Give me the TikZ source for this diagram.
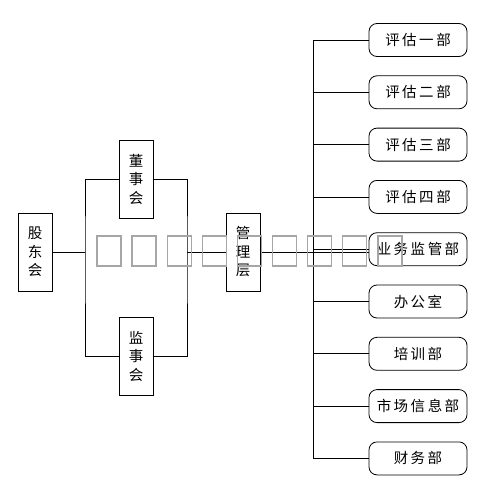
\documentclass[tikz,border=0pt]{standalone}
\usepackage{fontspec}
\setmainfont{Noto Sans CJK SC}
\usetikzlibrary{positioning}
\newcommand{\gap}{\hspace{2.5pt}}

\begin{document}
\begin{tikzpicture}[x=1pt, y=-1pt, line width=0.8pt,
      every node/.append style={font=\fontsize{14.5}{18.5}\selectfont},
      vbox/.style={draw, fill=white, minimum width=34pt, minimum height=78pt,
                   inner sep=0pt, align=center},
      dept/.style={draw, fill=white, rounded corners=8pt, minimum width=98pt,
                   minimum height=33pt, inner sep=0pt}]
    \useasboundingbox (0,0) rectangle (490,503);
    % left side
    \node (gdh) [vbox] at (35,252) {股\\东\\会};
    \node (dsh) [vbox] at (136,179) {董\\事\\会};
    \node (jsh) [vbox] at (136,356) {监\\事\\会};
    \node (glc) [vbox] at (243,252) {管\\理\\层};
    \coordinate (lp) at (85,252);
    \coordinate (rp) at (187,252);
    % right side
    \foreach \i/\txt in {1/评\gap 估\gap 一\gap 部, 2/评\gap 估\gap 二\gap 部,
        3/评\gap 估\gap 三\gap 部, 4/评\gap 估\gap 四\gap 部,
        5/业\gap 务\gap 监\gap 管\gap 部, 6/办\gap 公\gap 室,
        7/培\gap 训\gap 部, 8/市\gap 场\gap 信\gap 息\gap 部, 9/财\gap 务\gap 部}
      \node (b\i) [dept] at (418,{40+52.3*(\i-1)}) {\txt};
    \coordinate (spine) at (313,40);

    \draw (dsh.west) -| (lp) |- (jsh.west);
    \draw (dsh.east) -| (rp) |- (jsh.east);
    \draw (gdh) -- (lp);
    \draw (rp) -- (glc);
    \draw (glc.east) -- (b5.west |- glc.east);
    \draw (spine |- b1.west) -- (spine |- b9.west);
    \foreach \i in {1,...,9}
      \draw (spine |- b\i.west) -- (b\i.west);
    % grey boxes
    \foreach \i in {0,...,8}
      \draw [gray!70, line width=1.4pt] ({97+35.1*\i},236) rectangle ++(24,30);
\end{tikzpicture}
\end{document}
